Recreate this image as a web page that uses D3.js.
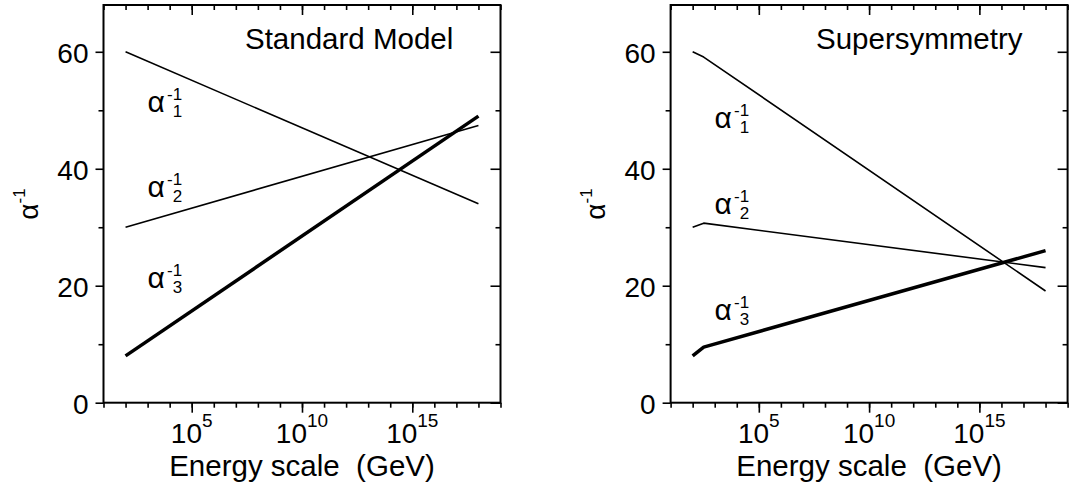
<!DOCTYPE html>
<html>
<head>
<meta charset="utf-8">
<script src="https://cdn.jsdelivr.net/npm/d3@7"></script>
<style>
  body { margin: 0; background: #fff; }
  svg { display: block; }
  text { font-family: "Liberation Sans", Arial, Helvetica, sans-serif; fill: #000; }
</style>
</head>
<body>
<svg id="chart" width="1069" height="486"></svg>
<script>
// ---------------- data ----------------
const panelTitles = ["Standard Model", "Supersymmetry"];
const xAxisTitle = "Energy scale  (GeV)";
const subscripts = ["1", "2", "3"];

// Standard Model: energy (GeV) and inverse couplings
const smEnergy  = [1e2, 1e18];
const smAlpha1  = [60.0, 34.0];
const smAlpha2  = [30.0, 47.4];
const smAlpha3  = [8.0, 49.0];

// Supersymmetry: energy (GeV) and inverse couplings (kink at SUSY threshold)
const susyEnergy = [1e2, 316, 1e18];
const susyAlpha1 = [60.0, 59.1, 19.1];
const susyAlpha2 = [30.0, 30.7, 23.1];
const susyAlpha3 = [8.0, 9.5, 26.0];

// axes
const yMajorTicks = [0, 20, 40, 60];
const yMinorTicks = [10, 30, 50];
const xMajorExponents = [5, 10, 15];
const xDecadeTicks = [1e1,1e2,1e3,1e4,1e5,1e6,1e7,1e8,1e9,1e10,1e11,1e12,1e13,1e14,1e15,1e16,1e17,1e18,1e19];
const xDomain = [1e1, 1e19];
const yDomain = [0, 68];

// ---------------- layout ----------------
const plotTop = 5, plotBottom = 402.7, pw = 397;
const panels = [
  { x0: 103.5, title: panelTitles[0], titleDx: 141.5, energy: smEnergy,
    series: [smAlpha1, smAlpha2, smAlpha3], labelVals: [49.7, 35.2, 19.6] },
  { x0: 670.6, title: panelTitles[1], titleDx: 145.4, energy: susyEnergy,
    series: [susyAlpha1, susyAlpha2, susyAlpha3], labelVals: [47.0, 32.3, 14.1] }
];
const strokeW = [1.6, 1.6, 3.5];

const svg = d3.select("#chart");

panels.forEach(p => {
  const x = d3.scaleLog().domain(xDomain).range([p.x0, p.x0 + pw]);
  const y = d3.scaleLinear().domain(yDomain).range([plotBottom, plotTop]);
  const g = svg.append("g");

  const bottomMinor = d3.axisBottom(x).tickValues(xDecadeTicks).tickSize(5).tickFormat("");
  const bottomMajor = d3.axisBottom(x).tickValues(xMajorExponents.map(e => Math.pow(10, e))).tickSize(10).tickFormat("");
  g.append("g").attr("transform", `translate(0,${plotBottom})`).call(bottomMinor);
  g.append("g").attr("transform", `translate(0,${plotBottom})`).call(bottomMajor);
  g.append("g").attr("transform", `translate(0,${plotTop})`).call(bottomMinor);
  g.append("g").attr("transform", `translate(0,${plotTop})`).call(bottomMajor);

  const leftMajor = d3.axisLeft(y).tickValues(yMajorTicks).tickSize(8).tickPadding(7).tickFormat(d3.format("d"));
  const leftMinor = d3.axisLeft(y).tickValues(yMinorTicks).tickSize(5).tickFormat("");
  const lm = g.append("g").attr("transform", `translate(${p.x0},0)`).call(leftMajor);
  lm.attr("font-size", null).attr("font-family", null);
  lm.selectAll("text").attr("font-size", 28).attr("dy", "0.4em");
  g.append("g").attr("transform", `translate(${p.x0},0)`).call(leftMinor);
  g.append("g").attr("transform", `translate(${p.x0 + pw},0)`)
    .call(d3.axisLeft(y).tickValues(yMajorTicks).tickSize(10).tickFormat(""));
  g.append("g").attr("transform", `translate(${p.x0 + pw},0)`)
    .call(d3.axisLeft(y).tickValues(yMinorTicks).tickSize(5).tickFormat(""));

  g.selectAll(".domain").remove();
  g.selectAll(".tick line").attr("stroke", "#000").attr("stroke-width", 1.6);

  xMajorExponents.forEach(e => {
    const t = g.append("text")
      .attr("x", x(Math.pow(10, e))).attr("y", 443)
      .attr("text-anchor", "middle").attr("font-size", 28);
    t.append("tspan").text("10");
    t.append("tspan").attr("dy", -16).attr("font-size", 19).text(e);
  });

  g.append("rect").attr("x", p.x0).attr("y", plotTop).attr("width", pw).attr("height", plotBottom - plotTop)
    .attr("fill", "none").attr("stroke", "#000").attr("stroke-width", 2);

  const line = d3.line().x(d => x(d[0])).y(d => y(d[1]));
  p.series.forEach((s, i) => {
    g.append("path")
      .datum(p.energy.map((e, j) => [e, s[j]]))
      .attr("d", line).attr("fill", "none").attr("stroke", "#000")
      .attr("stroke-width", strokeW[i]).attr("stroke-linejoin", "round");
  });

  p.labelVals.forEach((v, i) => {
    const lx = p.x0 + 44, ly = y(v);
    g.append("text").attr("x", lx).attr("y", ly).attr("font-size", 30).text("α");
    g.append("text").attr("x", lx + 19.5).attr("y", ly - 12).attr("font-size", 17).text("-1");
    g.append("text").attr("x", lx + 25.2).attr("y", ly + 5).attr("font-size", 17).text(subscripts[i]);
  });

  g.append("text").attr("x", p.x0 + p.titleDx).attr("y", 49).attr("font-size", 29.5).text(p.title);

  g.append("text").attr("x", p.x0 + pw / 2).attr("y", 476)
    .attr("text-anchor", "middle").attr("font-size", 29.5)
    .style("white-space", "pre").text(xAxisTitle);

  const yt = g.append("text")
    .attr("transform", `translate(${p.x0 - 66},204) rotate(-90)`)
    .attr("text-anchor", "middle").attr("font-size", 28);
  yt.append("tspan").text("α");
  yt.append("tspan").attr("dy", -13).attr("font-size", 17).text("-1");
});
</script>
</body>
</html>
